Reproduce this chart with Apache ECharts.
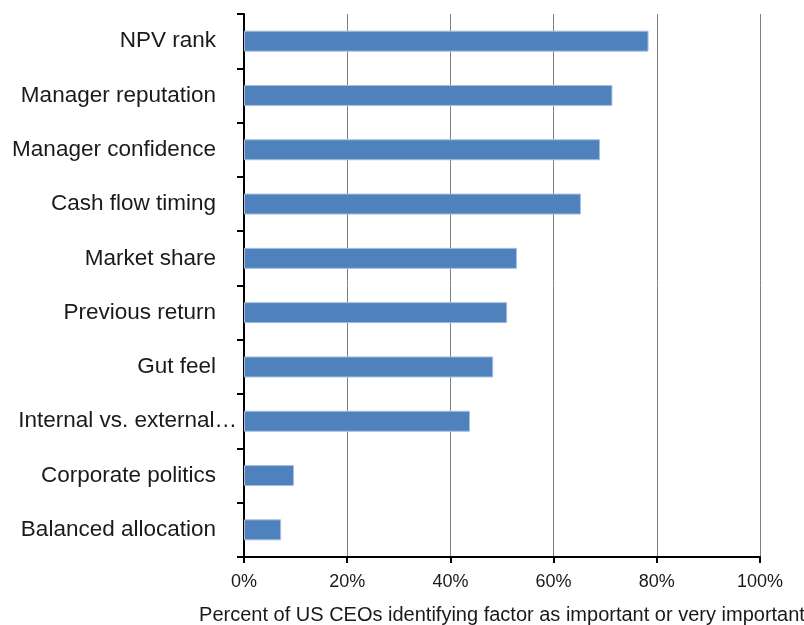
<!DOCTYPE html>
<html><head><meta charset="utf-8">
<script src="https://cdn.jsdelivr.net/npm/echarts@6/dist/echarts.min.js"></script>
<style>html,body{margin:0;padding:0;background:#fff}#c{width:804px;height:625px}</style>
</head><body><div id="c"></div>
<script>
var categories = ['NPV rank','Manager reputation','Manager confidence','Cash flow timing','Market share','Previous return','Gut feel','Internal vs. external\u2026','Corporate politics','Balanced allocation'];
var values = [78.4, 71.4, 69.0, 65.3, 52.9, 51.0, 48.3, 43.8, 9.7, 7.2];
var xTicks = [0, 20, 40, 60, 80, 100];
var axisTitle = 'Percent of US CEOs identifying factor as important or very important';

var catData = categories.map(function (c) {
  if (c.indexOf('\u2026') >= 0) return {value: c, textStyle: {padding: [0, -21, 0, 0]}};
  return c;
});

var chart = echarts.init(document.getElementById('c'));
chart.setOption({
  animation: false,
  grid: {left: 244, right: 44, top: 14, bottom: 68, containLabel: false, outerBoundsMode: 'none'},
  xAxis: {
    type: 'value', min: xTicks[0], max: xTicks[xTicks.length-1], interval: 20,
    axisLine: {show: true, lineStyle: {color: '#000', width: 2}},
    axisTick: {show: true, length: 6, lineStyle: {color: '#000', width: 2}},
    splitLine: {show: true, lineStyle: {color: '#808080', width: 1}},
    axisLabel: {formatter: '{value}%', fontSize: 18, color: '#1a1a1a', margin: 16, fontFamily: 'Liberation Sans, Arial'},
    name: axisTitle, nameLocation: 'middle', nameGap: 48,
    nameTextStyle: {fontSize: 20, color: '#1a1a1a', fontFamily: 'Liberation Sans, Arial'}
  },
  yAxis: {
    type: 'category', data: catData, inverse: true,
    axisLine: {show: true, lineStyle: {color: '#000', width: 2}},
    axisTick: {show: true, length: 7, lineStyle: {color: '#000', width: 2}},
    axisLabel: {fontSize: 22.5, color: '#1a1a1a', margin: 28, fontFamily: 'Liberation Sans, Arial'}
  },
  series: [{
    type: 'bar', data: values, barWidth: 21,
    itemStyle: {color: '#4F81BD', borderColor: '#A7C0E0', borderWidth: 1}
  }]
});
</script></body></html>
